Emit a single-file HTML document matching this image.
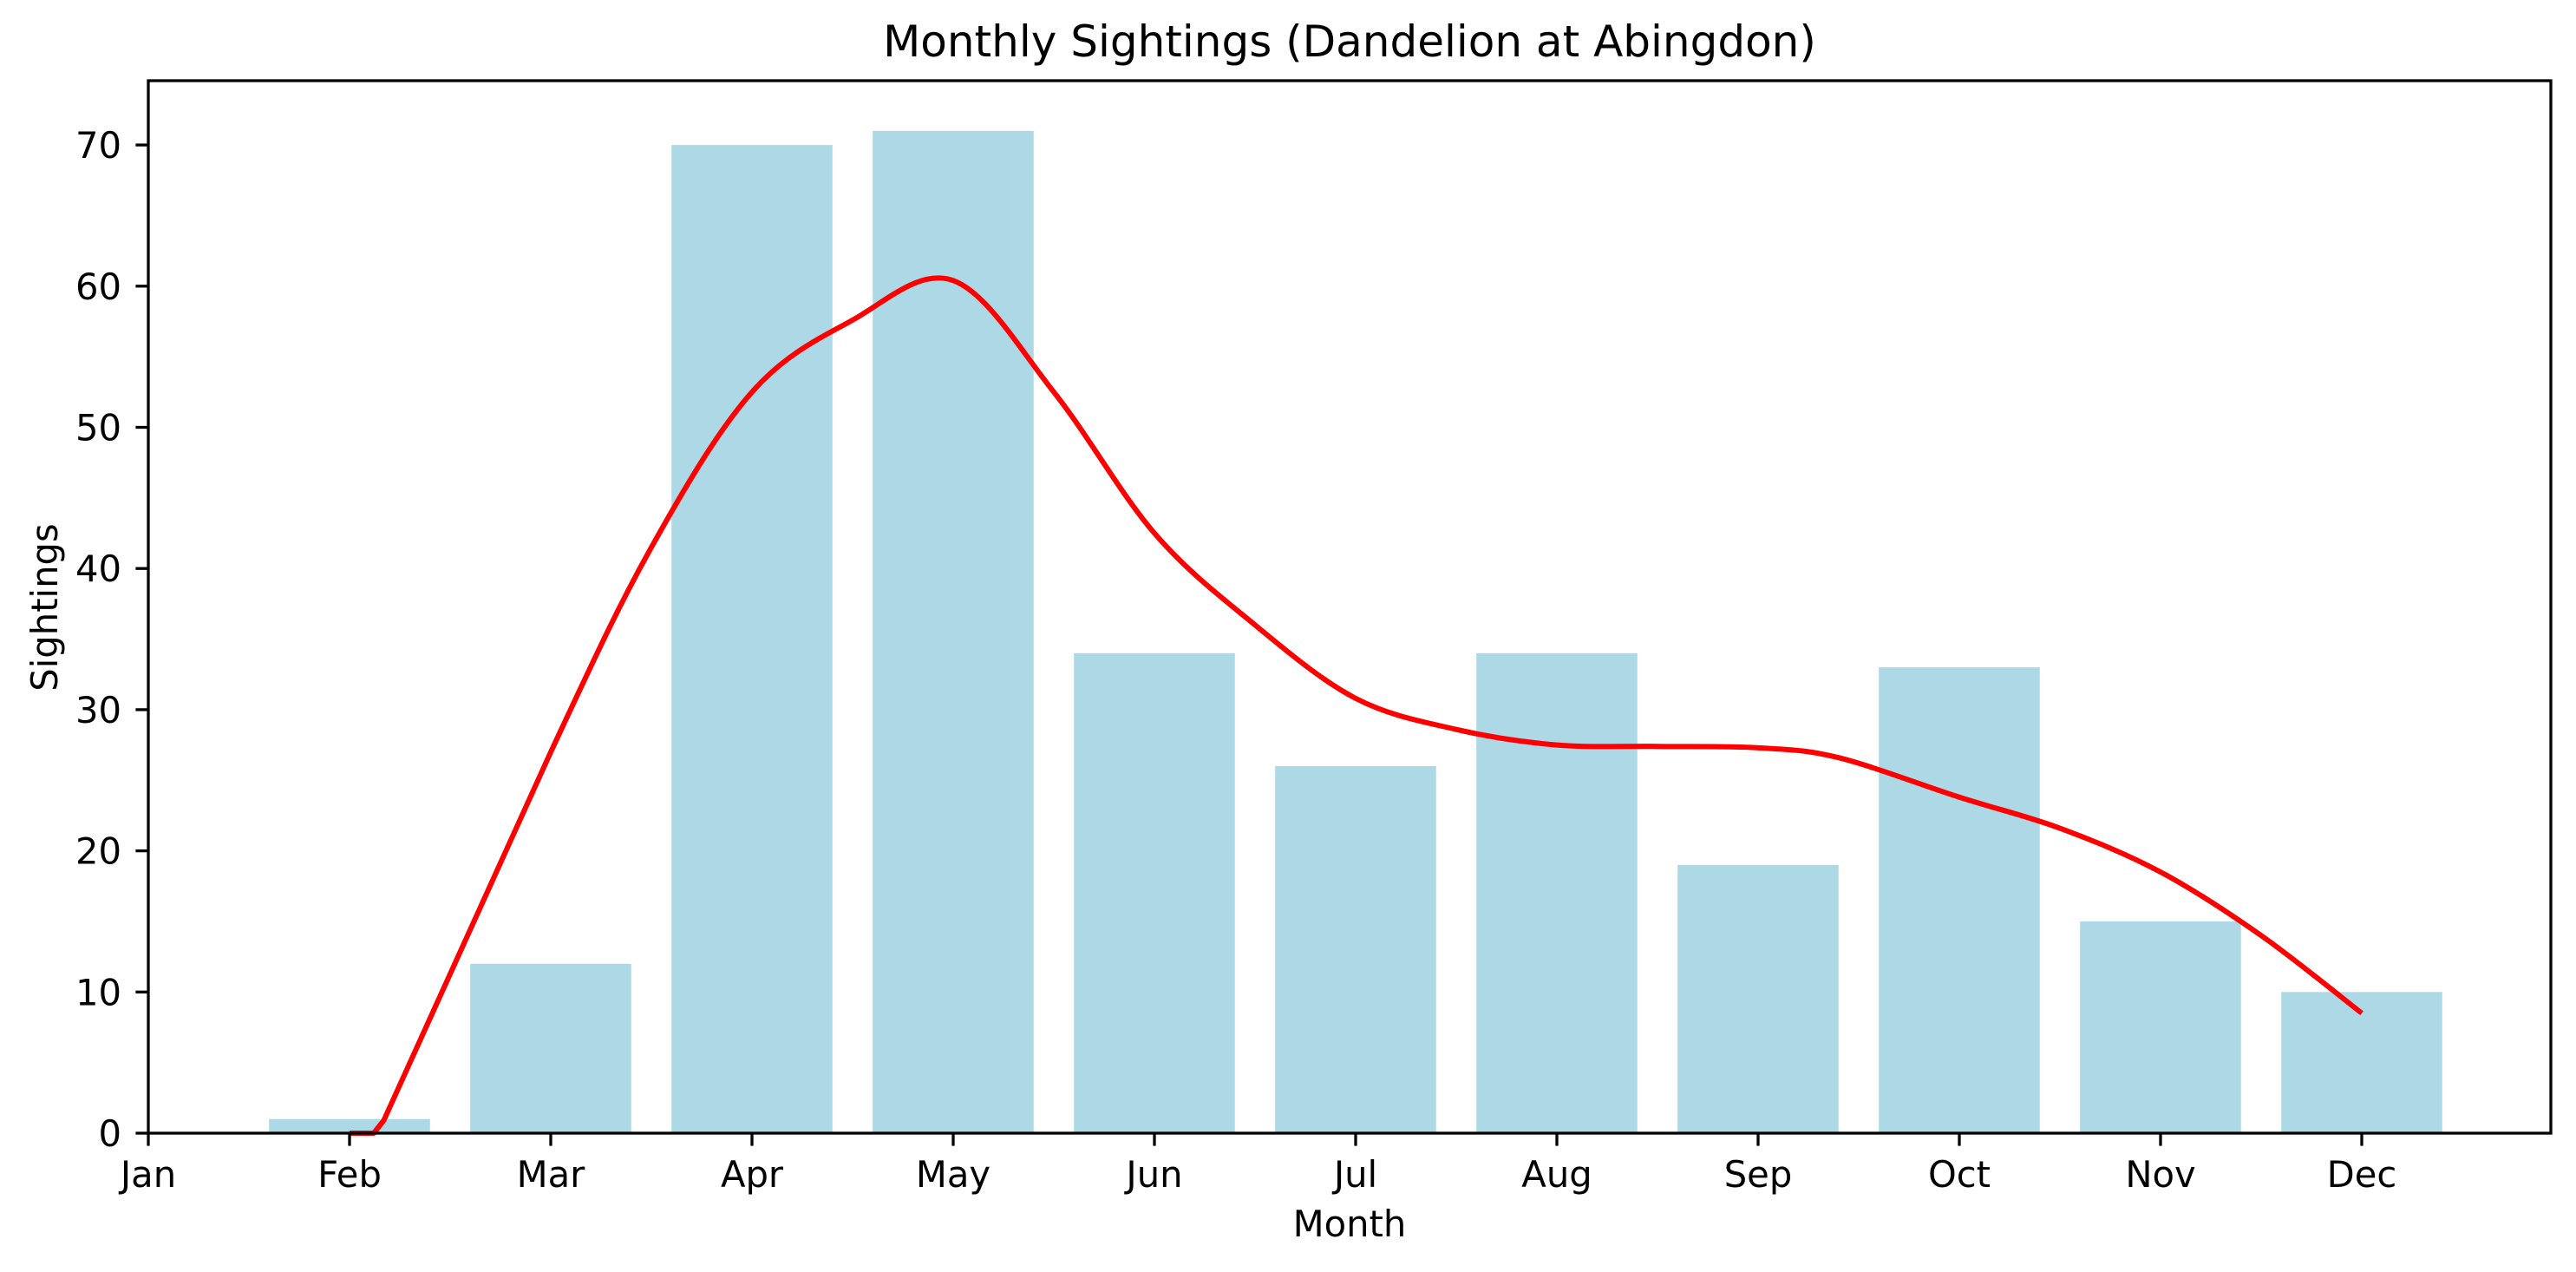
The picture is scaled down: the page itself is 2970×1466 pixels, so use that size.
<!DOCTYPE html>
<html><head><meta charset="utf-8"><style>
html,body{margin:0;padding:0;background:#fff;}
svg{display:block;font-family:"DejaVu Sans","Liberation Sans",sans-serif;}
</style></head><body>
<svg id="s" width="2970" height="1466" viewBox="0 0 2970 1466" xmlns="http://www.w3.org/2000/svg">
<rect width="2970" height="1466" fill="#fff"/>
<g id="bars" fill="#add8e6"></g>
<path id="curve" fill="none" stroke="#ff0000" stroke-width="6" stroke-linejoin="round"/>
<rect x="171" y="93" width="2770" height="1213" fill="none" stroke="#000" stroke-width="3.3"/>
<g id="ticks" stroke="#000" stroke-width="3.3"></g>
<g id="labels" font-size="41.7" fill="#000"></g>
<text x="1556" y="65" font-size="50" text-anchor="middle">Monthly Sightings (Dandelion at Abingdon)</text>
<text x="1556" y="1425" font-size="41.7" text-anchor="middle">Month</text>
<text transform="translate(66,700) rotate(-90)" font-size="41.7" text-anchor="middle">Sightings</text>
</svg>
<script>
var X=function(m){return 171+232*m;}, Y=function(v){return 1306-16.27*v;};
var ns="http://www.w3.org/2000/svg";
function el(t,a,p,txt){var e=document.createElementNS(ns,t);for(var k in a)e.setAttribute(k,a[k]);if(txt!==undefined)e.textContent=txt;document.getElementById(p).appendChild(e);}
var vals=[null,1,12,70,71,34,26,34,19,33,15,10];
for(var i=1;i<12;i++){el("rect",{x:X(i-0.4),y:Y(vals[i]),width:232*0.8,height:16.27*vals[i]},"bars");}
var mon=["Jan","Feb","Mar","Apr","May","Jun","Jul","Aug","Sep","Oct","Nov","Dec"];
for(var i=0;i<12;i++){el("line",{x1:X(i),y1:1306,x2:X(i),y2:1320.6},"ticks");
el("text",{x:X(i),y:1368,"text-anchor":"middle"},"labels",mon[i]);}
for(var v=0;v<=70;v+=10){el("line",{x1:171,y1:Y(v),x2:156.4,y2:Y(v)},"ticks");
el("text",{x:140,y:Y(v)+15,"text-anchor":"end"},"labels",String(v));}
var P=[[1,0],[1.12,0],[1.17,0.9],[2,27],[2.5,41.5],[3,52.5],[3.5,57.6],[4,60.4],[4.5,52.5],[5,42.5],[5.5,36],[6,30.8],[6.5,28.6],[7,27.5],[7.5,27.4],[8,27.3],[8.4,26.6],[9,23.8],[9.5,21.6],[10,18.5],[10.5,14],[11,8.5]];
var pts=P.map(function(p){return [X(p[0]),Y(p[1])];});
var d="M"+pts[0][0]+","+pts[0][1]+" L"+pts[1][0]+","+pts[1][1]+" L"+pts[2][0]+","+pts[2][1]+" L"+pts[3][0]+","+pts[3][1];
for(var i=3;i<pts.length-1;i++){var p0=pts[i-1],p1=pts[i],p2=pts[i+1],p3=pts[Math.min(i+2,pts.length-1)];
var c1=[p1[0]+(p2[0]-p0[0])/6,p1[1]+(p2[1]-p0[1])/6],c2=[p2[0]-(p3[0]-p1[0])/6,p2[1]-(p3[1]-p1[1])/6];
d+=" C"+c1[0]+","+c1[1]+" "+c2[0]+","+c2[1]+" "+p2[0]+","+p2[1];}
document.getElementById("curve").setAttribute("d",d);
</script>
</body></html>
